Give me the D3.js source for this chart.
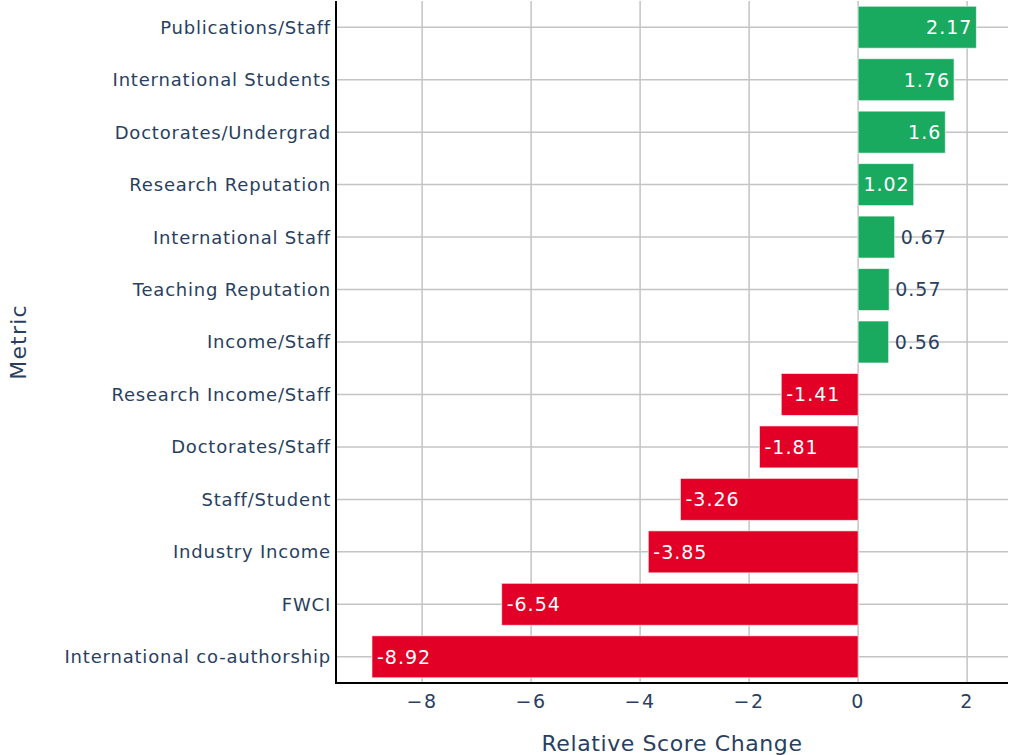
<!DOCTYPE html>
<html>
<head>
<meta charset="utf-8">
<script src="https://cdn.jsdelivr.net/npm/d3@7"></script>
<style>
  html, body { margin: 0; padding: 0; background: #fff; }
  svg { display: block; font-family: "DejaVu Sans", Verdana, sans-serif; }
</style>
</head>
<body>
<svg id="chart" width="1013" height="755"></svg>
<script>
// Metrics, top to bottom
const metrics = [
  "Publications/Staff",
  "International Students",
  "Doctorates/Undergrad",
  "Research Reputation",
  "International Staff",
  "Teaching Reputation",
  "Income/Staff",
  "Research Income/Staff",
  "Doctorates/Staff",
  "Staff/Student",
  "Industry Income",
  "FWCI",
  "International co-authorship"
];
const changes = [2.17, 1.76, 1.6, 1.02, 0.67, 0.57, 0.56, -1.41, -1.81, -3.26, -3.85, -6.54, -8.92];
const xTicks = [-8, -6, -4, -2, 0, 2];

const svg = d3.select("#chart");
const W = 1013, H = 755;
const margin = { left: 336, right: 5, top: 1, bottom: 72 };
const textColor = "#2a3f5f";
const posColor = "#1aaa5f";
const negColor = "#e30026";

const x = d3.scaleLinear().domain([-9.58, 2.75]).range([margin.left, W - margin.right]);
const y = d3.scaleBand().domain(metrics).range([margin.top, H - margin.bottom]).paddingInner(0.2).paddingOuter(0.1);

const plotTop = margin.top, plotBottom = H - margin.bottom;

// grid
const grid = svg.append("g");
grid.selectAll("line.vx").data(xTicks).join("line")
  .attr("x1", d => x(d)).attr("x2", d => x(d))
  .attr("y1", plotTop).attr("y2", plotBottom)
  .attr("stroke", "#c4c4c4").attr("stroke-width", 1.5);
grid.selectAll("line.hy").data(metrics).join("line")
  .attr("x1", margin.left).attr("x2", W - margin.right)
  .attr("y1", d => y(d) + y.bandwidth() / 2).attr("y2", d => y(d) + y.bandwidth() / 2)
  .attr("stroke", "#c4c4c4").attr("stroke-width", 1.5);

// bars
const data = metrics.map((m, i) => ({ m, v: changes[i] }));
svg.append("g").selectAll("rect").data(data).join("rect")
  .attr("x", d => x(Math.min(0, d.v)))
  .attr("width", d => Math.abs(x(d.v) - x(0)))
  .attr("y", d => y(d.m))
  .attr("height", y.bandwidth())
  .attr("fill", d => d.v >= 0 ? posColor : negColor)
  .attr("stroke", "rgba(255,255,255,0.6)")
  .attr("stroke-width", 1);

// value labels: inside the bar end when it fits, otherwise just outside
svg.append("g").selectAll("text").data(data).join("text")
  .each(function (d) {
    const t = d3.select(this);
    const w = Math.abs(x(d.v) - x(0));
    const inside = w > 50;
    let px, anchor, fill;
    if (d.v >= 0) {
      if (inside) { px = x(d.v) - 4; anchor = "end"; fill = "#fff"; }
      else { px = x(d.v) + 6; anchor = "start"; fill = textColor; }
    } else {
      if (inside) { px = x(d.v) + 5; anchor = "start"; fill = "#fff"; }
      else { px = x(d.v) - 6; anchor = "end"; fill = textColor; }
    }
    t.attr("x", px).attr("y", y(d.m) + y.bandwidth() / 2)
      .attr("dy", "0.36em").attr("text-anchor", anchor)
      .attr("fill", fill).attr("font-size", 19).attr("letter-spacing", 1)
      .text(String(d.v));
  });

// axes lines
svg.append("line").attr("x1", margin.left).attr("x2", margin.left)
  .attr("y1", plotTop).attr("y2", plotBottom + 1).attr("stroke", "#000").attr("stroke-width", 2);
svg.append("line").attr("x1", margin.left - 1).attr("x2", W - margin.right)
  .attr("y1", plotBottom).attr("y2", plotBottom).attr("stroke", "#000").attr("stroke-width", 2);

// x tick labels
svg.append("g").selectAll("text").data(xTicks).join("text")
  .attr("x", d => x(d)).attr("y", plotBottom + 25)
  .attr("text-anchor", "middle").attr("fill", textColor).attr("font-size", 19)
  .attr("letter-spacing", 1.5)
  .text(d => d < 0 ? "\u2212" + Math.abs(d) : String(d));

// y tick labels
svg.append("g").selectAll("text").data(metrics).join("text")
  .attr("x", margin.left - 5).attr("y", d => y(d) + y.bandwidth() / 2)
  .attr("dy", "0.36em").attr("text-anchor", "end").attr("fill", textColor).attr("font-size", 18)
  .attr("letter-spacing", 0.8)
  .text(d => d);

// axis titles
svg.append("text").attr("x", (margin.left + W - margin.right) / 2).attr("y", 751)
  .attr("text-anchor", "middle").attr("fill", textColor).attr("font-size", 22)
  .attr("letter-spacing", 0.6)
  .text("Relative Score Change");
svg.append("text").attr("transform", `translate(26,${(plotTop + plotBottom) / 2}) rotate(-90)`)
  .attr("text-anchor", "middle").attr("fill", textColor).attr("font-size", 22)
  .attr("letter-spacing", 1.2)
  .text("Metric");
</script>
</body>
</html>
